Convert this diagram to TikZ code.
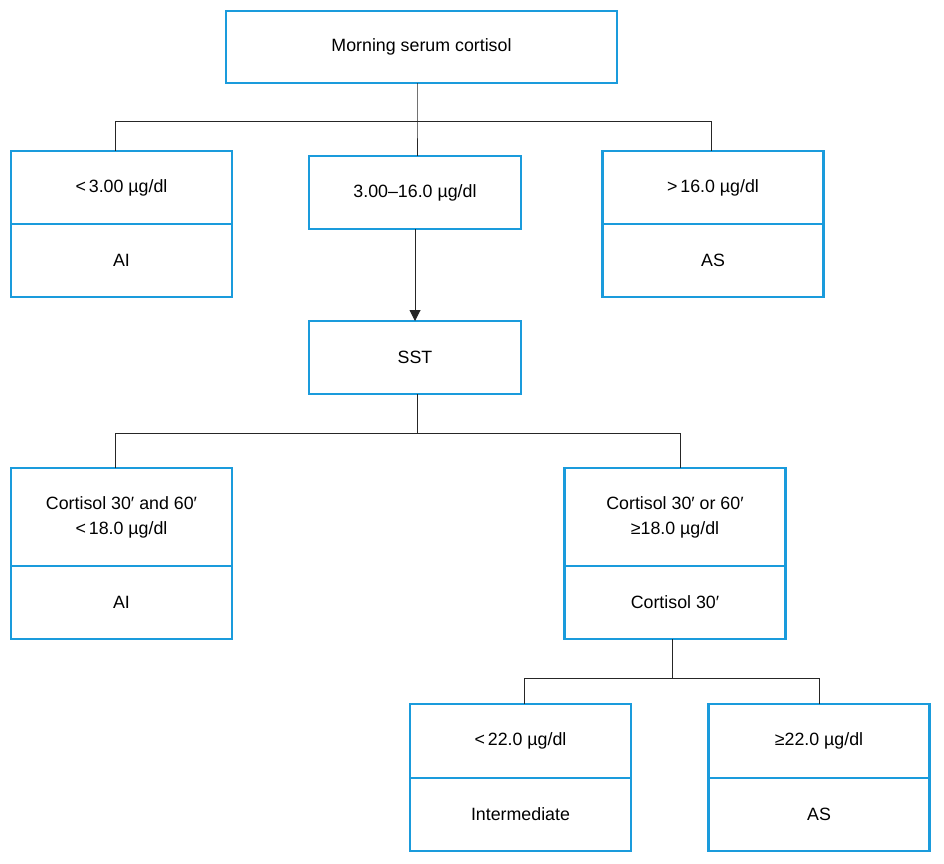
\documentclass[tikz,border=0pt]{standalone}
\usepackage{fontspec}
\setmainfont{Liberation Sans}
\usetikzlibrary{arrows.meta,positioning}
\definecolor{boxblue}{HTML}{1A9BDC}
\tikzset{
    flow-box/.style = {draw=boxblue, line width=2.5pt, fill=white, rectangle, minimum width=221pt, minimum height=73pt, inner sep=0pt, outer sep=0pt, align=center, font=\fontsize{17.8}{25}\selectfont},
    link/.style = {draw=black!85, line width=1pt},
}

\begin{document}
\begin{tikzpicture}[x=1pt,y=-1pt]
\useasboundingbox (0,0) rectangle (944,863);
% first level
\node[flow-box, minimum width=391pt, minimum height=72pt] (start) at (421.5,47) {Morning serum cortisol};
\node[flow-box] (lowA) at (121.5,187.5) {<\,3.00 µg/dl};
\node[flow-box, below=0pt of lowA] (lowAres) {AI};
\node[flow-box, minimum width=212pt] (midA) at (415,192.5) {3.00–16.0 µg/dl};
\node[flow-box] (highA) at (713,187.5) {>\,16.0 µg/dl};
\node[flow-box, below=0pt of highA] (highAres) {AS};
% stimulation test
\node[flow-box, minimum width=212pt] (sst) at (415,357.5) {SST};
\node[flow-box, minimum height=98pt] (lowB) at (121.5,517) {Cortisol 30′ and 60′\\<\,18.0 µg/dl};
\node[flow-box, below=0pt of lowB] (lowBres) {AI};
\node[flow-box, minimum height=98pt] (highB) at (675,517) {Cortisol 30′ or 60′\\≥18.0 µg/dl};
\node[flow-box, below=0pt of highB] (highBres) {Cortisol 30′};
% cortisol 30 split
\node[flow-box, minimum height=74pt] (lowC) at (520.5,741) {<\,22.0 µg/dl};
\node[flow-box, below=0pt of lowC] (lowCres) {Intermediate};
\node[flow-box, minimum height=74pt] (highC) at (819,741) {≥22.0 µg/dl};
\node[flow-box, below=0pt of highC] (highCres) {AS};

\coordinate (forkA) at (417,121);
\coordinate (forkB) at (417,433);
\coordinate (forkC) at (672,678);

\draw[link] (start.south -| forkA) -- (forkA) -- (midA.north -| forkA);
\draw[link] ([xshift=-6pt]lowA.north) -- ([xshift=-6pt]lowA.north |- forkA) -- ([xshift=-2pt]highA.north |- forkA) -- ([xshift=-2pt]highA.north);
\draw[link, -{Triangle[length=11pt,width=11pt]}] (midA.south) -- (sst.north);

\draw[link] ([xshift=2pt]sst.south) -- ([xshift=2pt]sst.south |- forkB);
\draw[link] ([xshift=-6pt]lowB.north) -- ([xshift=-6pt]lowB.north |- forkB) -- ([xshift=5pt]highB.north |- forkB) -- ([xshift=5pt]highB.north);

\draw[link] ([xshift=-3pt]highBres.south) -- ([xshift=-3pt]highBres.south |- forkC);
\draw[link] ([xshift=4pt]lowC.north) -- ([xshift=4pt]lowC.north |- forkC) -- (highC.north |- forkC) -- (highC.north);
\end{tikzpicture}
\end{document}
